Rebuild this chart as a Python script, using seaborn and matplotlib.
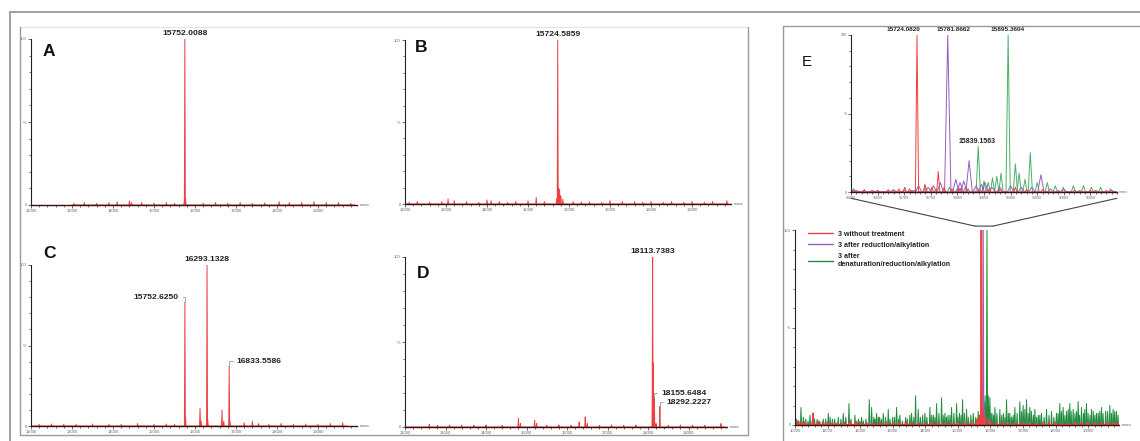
import numpy as np
import pandas as pd
import seaborn as sns
import matplotlib
matplotlib.use("Agg")
import matplotlib.pyplot as plt
from matplotlib.lines import Line2D
from matplotlib.patches import ConnectionPatch
from matplotlib.ticker import MultipleLocator

# ---------------- data (mass, relative intensity %) ----------------
A_mass = [13050, 13300, 13600, 13900, 14100, 14400, 14450, 14700, 15000, 15300, 15500,
          15740, 15752.0088, 15770, 16200, 16500, 16800, 17100, 17400, 17700, 18050,
          18300, 18600, 18900, 19200, 19500, 19800]
A_int = [1, 1.5, 1, 1.5, 2, 2.5, 1.5, 1.5, 1.2, 1.5, 1,
         2, 100, 4, 1.2, 1.5, 1, 1.5, 1, 1.2, 2,
         1.5, 1.5, 2, 1.5, 1.5, 1]

B_mass = [12100, 12300, 12600, 12900, 13050, 13200, 13500, 13800, 14000, 14100, 14300,
          14500, 14700, 15000, 15200, 15400, 15700, 15724.5859, 15740, 15755, 15770,
          15800, 15850, 16100, 16300, 16500, 16800, 17000, 17300, 17600, 17800, 18000,
          18300, 18500, 18800, 19000, 19300, 19500, 19850]
B_int = [1, 1.5, 1, 1.5, 3, 2, 1.5, 1, 2.5, 2, 1.5,
         1, 1.5, 2, 4, 1.5, 3, 100, 10, 7, 9,
         5, 3, 1.5, 1.2, 1.2, 1, 2, 1.5, 1.5, 1, 1.5,
         1, 1.5, 1, 1.5, 1, 1.5, 2]

C_mass = [12200, 12500, 12800, 13100, 13500, 13900, 14200, 14600, 15000, 15300, 15500,
          15752.6250, 15770, 16122, 16150, 16293.1328, 16310, 16658, 16700,
          16833.5586, 16850, 17200, 17400, 17550, 17800, 18100, 18400, 18700,
          19000, 19300, 19600]
C_int = [1, 1.2, 1, 1, 1.2, 1, 1, 1.5, 1, 1.2, 1,
         77, 5, 11, 3, 100, 4, 10, 3,
         37, 3, 2, 3, 1.5, 1, 1.5, 1, 1.2,
         1, 1.5, 2]

D_mass = [12600, 12800, 13100, 13400, 13700, 14000, 14400, 14800, 14850, 15200, 15250,
          15500, 15800, 16100, 16300, 16450, 16500, 16800, 17100, 17400, 17700,
          18113.7383, 18118, 18155.6484, 18200, 18292.2227, 18500, 18800, 19100,
          19400, 19800]
D_int = [1.5, 1, 1.2, 1, 1, 1.2, 1, 5, 2, 4, 2,
         1, 1.2, 1, 3, 6, 2, 1, 1.2, 1, 1.2,
         100, 38, 17, 2, 12, 1, 1.2, 1,
         1, 2]

# Panel E, main spectrum (10000-20000)
E_red_mass = [10100, 10200, 10300, 10553, 10700, 10850, 11000, 11150, 11300, 11500, 11700,
              11850, 12000, 12200, 12400, 12600, 12800, 13000, 13200, 13400, 13600, 13800,
              14000, 14200, 14400, 14600, 14800, 15000, 15200, 15400, 15600, 15680,
              15724.0820, 15764, 15850, 16000, 16200, 16400, 16600, 16800, 17000, 17200,
              17400, 17600, 17800, 18000, 18200, 18400, 18600, 18800, 19000, 19200, 19400,
              19600, 19800, 19900]
E_red_int = [2, 1.5, 1.5, 6, 2, 1.5, 1.5, 1, 1, 1.5, 2,
             1.5, 1.5, 1, 1, 1.5, 1.5, 1, 1, 2, 1.5, 1,
             1, 1.5, 1.5, 1, 1, 1.5, 1.5, 2, 3, 5,
             100, 8, 4, 2, 1.5, 1.5, 1, 1, 1.5, 1.5,
             1, 1, 1.5, 1.5, 1, 1, 1.5, 1.5, 1, 1, 1.5,
             1.5, 1, 1]
E_pur_mass = [12000, 14000, 15700, 15781.8662, 15822, 15957, 16500, 18000]
E_pur_int = [1, 1, 2, 100, 8, 4, 1, 1]
E_grn_mass = [10184, 10256, 10460, 10600, 10870, 11023, 11150, 11330, 11483, 11657, 11841,
              11950, 12046, 12281, 12353, 12506, 12600, 12711, 12864, 13000, 13120, 13222,
              13400, 13529, 13703, 13785, 13990, 14143, 14250, 14348, 14501, 14604, 14700,
              14808, 14962, 15050, 15146, 15268, 15473, 15627, 15839.1563, 15895.3604,
              15937, 15985, 16050, 16138, 16291, 16400, 16496, 16598, 16752, 16905, 17007,
              17110, 17212, 17366, 17470, 17570, 17724, 17877, 18030, 18133, 18235, 18340,
              18440, 18542, 18696, 18798, 18951, 19105, 19258, 19412, 19540, 19668, 19770,
              19870]
E_grn_int = [9, 4, 5, 3, 3, 6, 3, 4, 6, 11, 5,
             3, 4, 13, 9, 6, 4, 6, 8, 4, 9, 5,
             4, 5, 15, 8, 6, 9, 5, 11, 14, 6, 5,
             9, 11, 6, 13, 8, 6, 7, 15, 100,
             15, 14, 6, 9, 8, 6, 13, 6, 9, 12, 10,
             13, 9, 8, 5, 6, 8, 7, 6, 11, 9, 7,
             11, 8, 12, 9, 11, 8, 6, 9, 7, 10, 8,
             7]
E_grn_low_mass = [10050, 10120, 10330, 10400, 10530, 10680, 10760, 10940, 11080, 11220,
                  11410, 11560, 11720, 11900, 12100, 12180, 12420, 12460, 12560, 12650,
                  12780, 12920, 13060, 13180, 13300, 13450, 13580, 13650, 13850, 13920,
                  14050, 14200, 14300, 14420, 14550, 14650, 14760, 14880, 15000, 15100,
                  15200, 15320, 15400, 15550, 15700, 15760, 15810, 15870, 15960, 16020,
                  16100, 16200, 16350, 16450, 16550, 16650, 16700, 16820, 16960, 17060,
                  17160, 17260, 17320, 17420, 17520, 17650, 17800, 17950, 18080, 18180,
                  18290, 18390, 18480, 18600, 18650, 18740, 18860, 18900, 19000, 19060,
                  19160, 19210, 19310, 19360, 19460, 19600, 19720, 19820, 19920]
E_grn_low_int = [3, 2, 3, 2, 2, 3, 2, 3, 4, 3,
                 3, 4, 3, 2, 2, 3, 4, 3, 4, 3,
                 4, 3, 4, 3, 2, 3, 6, 4, 4, 5,
                 4, 5, 4, 6, 5, 4, 5, 6, 4, 5,
                 6, 4, 5, 4, 6, 8, 12, 10, 9, 6,
                 5, 6, 5, 4, 6, 4, 5, 6, 7, 8,
                 6, 7, 5, 4, 5, 4, 5, 4, 6, 7,
                 5, 8, 7, 6, 7, 5, 6, 8, 6, 5,
                 7, 5, 6, 7, 6, 7, 6, 7, 5]

# Panel E, inset (15600-16100)
I_red_mass = [15605, 15625, 15650, 15670, 15690, 15701, 15710, 15724.0820, 15739, 15752,
              15764, 15775, 15790, 15805, 15820, 15840, 15860, 15880, 15909, 15930, 15960,
              15990, 16020, 16050, 16080]
I_red_int = [1, 1.5, 1, 1.5, 2, 3, 2, 100, 5, 3,
             13, 3, 2, 2.5, 2, 1.5, 2, 1.5, 3, 1.5, 1.5,
             1, 1, 1, 1]
I_pur_mass = [15610, 15640, 15680, 15715, 15727, 15745, 15755, 15768, 15781.8662, 15797,
              15805, 15812, 15822, 15835, 15845, 15852, 15865, 15880, 15900, 15920, 15940,
              15957, 15975, 16000, 16030, 16060, 16090]
I_pur_int = [1, 1, 1.5, 1, 4, 3, 4, 6, 100, 8,
             6, 7, 20, 4, 5, 6, 3, 3, 4, 3, 3,
             11, 2, 1.5, 1, 1, 1]
I_grn_mass = [15605, 15625, 15650, 15680, 15700, 15720, 15740, 15760, 15785, 15800, 15815,
              15839.1563, 15850, 15858, 15866, 15874, 15882, 15895.3604, 15909, 15916,
              15927, 15937, 15950, 15969, 15984, 15999, 16018, 16037, 16052, 16069, 16088]
I_grn_int = [2, 1, 1, 1, 1.5, 1, 3, 2, 3, 2, 3,
             29, 7, 6, 9, 10, 12, 100, 18, 12,
             8, 25, 6, 6, 4, 3, 4, 4, 3, 3, 2]

legend_labels = ["3 without treatment", "3 after reduction/alkylation",
                 "3 after\ndenaturation/reduction/alkylation"]

# ---------------- style ----------------
sns.set_theme(style="white")
plt.rcParams['font.family'] = ['Liberation Sans', 'DejaVu Sans']

RED = "#ee4040"
PUR = "#9b5cc0"
GRN = "#1f8c3e"
GRN_LIGHT = "#4caf6a"
W, H = 1140, 441

fig = plt.figure(figsize=(11.4, 4.41), dpi=100)
fig.patch.set_facecolor("white")


def px_axes(left, top, right, bottom):
    return fig.add_axes([left / W, 1 - bottom / H, (right - left) / W, (bottom - top) / H])


def fline(x0, y0, x1, y1, color="#999999", lw=1.2):
    fig.add_artist(Line2D([x0 / W, x1 / W], [1 - y0 / H, 1 - y1 / H],
                          transform=fig.transFigure, color=color, lw=lw))


def draw_spectrum(ax, masses, heights, start, end, color, hw, lw=0.7):
    xs, ys = [start], [0]
    for m, h in sorted(zip(masses, heights)):
        xs += [m - hw, m, m + hw]
        ys += [0, h, 0]
    xs.append(end)
    ys.append(0)
    df = pd.DataFrame({"mass": xs, "int": ys})
    sns.lineplot(data=df, x="mass", y="int", sort=False, estimator=None,
                 color=color, lw=lw, ax=ax, legend=False)


def style_axes(ax, xlim, majors, minor, labelsize=3.0):
    ax.set_xlim(*xlim)
    ax.set_ylim(0, 100)
    ax.patch.set_alpha(0)
    for s in ["top", "right"]:
        ax.spines[s].set_visible(False)
    ax.spines["left"].set_color("#222222")
    ax.spines["left"].set_linewidth(0.8)
    ax.spines["bottom"].set_color("#3a1010")
    ax.spines["bottom"].set_linewidth(1.0)
    ax.set_xticks(majors)
    ax.set_xticklabels([str(t) for t in majors])
    ax.xaxis.set_minor_locator(MultipleLocator(minor))
    ax.set_yticks([0, 50, 100])
    ax.set_yticklabels(["0", "%", "100"])
    ax.yaxis.set_minor_locator(MultipleLocator(10))
    ax.tick_params(which="both", direction="out", bottom=True, left=True,
                   length=2, width=0.5, color="#333333",
                   labelsize=labelsize, labelcolor="#666666", pad=1)
    ax.tick_params(which="minor", length=1.2)
    ax.set_xlabel("")
    ax.set_ylabel("")
    ax.text(1.008, 0, "mass", transform=ax.transAxes, fontsize=labelsize,
            color="#666666", va="center", ha="left")


hook = dict(arrowstyle="-", color="#888888", lw=0.5, shrinkA=0.5, shrinkB=0,
            connectionstyle="angle,angleA=0,angleB=90,rad=0")
lab_kw = dict(fontsize=6.1, fontweight="bold", color="#222222")

# ---------------- frames ----------------
fline(10, 12, 1140, 12, "#9a9a9a", 1.3)
fline(10, 12, 10, 441, "#9a9a9a", 1.3)
fline(20, 27, 748, 27, "#e4e4e4", 0.8)
fline(20, 27, 20, 435, "#9a9a9a", 1.0)
fline(20, 435, 748, 435, "#9a9a9a", 1.0)
fline(748, 27, 748, 435, "#9a9a9a", 1.0)
fline(783, 26, 1140, 26, "#9a9a9a", 1.0)
fline(783, 26, 783, 441, "#9a9a9a", 1.0)

ticks12 = list(range(12000, 20000, 1000))

# ---------------- panel A ----------------
axA = px_axes(31, 39, 357, 205)
draw_spectrum(axA, A_mass, A_int, 13000, 19900, RED, 12)
style_axes(axA, (12000, 19950), ticks12, 200)
axA.annotate(f"{A_mass[12]:.4f}", xy=(A_mass[12], A_int[12]), xytext=(0, 1.5),
             textcoords="offset points", ha="center", va="bottom", **lab_kw)

# ---------------- panel B ----------------
axB = px_axes(405, 40, 731, 204)
draw_spectrum(axB, B_mass, B_int, 12000, 19900, RED, 12)
style_axes(axB, (12000, 19950), ticks12, 200)
axB.annotate(f"{B_mass[17]:.4f}", xy=(B_mass[17], B_int[17]), xytext=(0, 1.5),
             textcoords="offset points", ha="center", va="bottom", **lab_kw)

# ---------------- panel C ----------------
axC = px_axes(31, 265, 357, 426)
draw_spectrum(axC, C_mass, C_int, 12000, 19700, RED, 12)
style_axes(axC, (12000, 19950), ticks12, 200)
axC.annotate(f"{C_mass[15]:.4f}", xy=(C_mass[15], C_int[15]), xytext=(0, 1.5),
             textcoords="offset points", ha="center", va="bottom", **lab_kw)
axC.annotate(f"{C_mass[11]:.4f}", xy=(C_mass[11], C_int[11]), xytext=(-4.5, 3.6),
             textcoords="offset points", ha="right", va="center", arrowprops=hook, **lab_kw)
axC.annotate(f"{C_mass[19]:.4f}", xy=(C_mass[19], C_int[19]), xytext=(5.5, 3.6),
             textcoords="offset points", ha="left", va="center", arrowprops=hook, **lab_kw)

# ---------------- panel D ----------------
axD = px_axes(405, 257, 727, 427)
draw_spectrum(axD, D_mass, D_int, 12000, 19900, RED, 12)
style_axes(axD, (12000, 19950), ticks12, 200)
axD.annotate(f"{D_mass[21]:.4f}", xy=(D_mass[21], D_int[21]), xytext=(0, 1.5),
             textcoords="offset points", ha="center", va="bottom", **lab_kw)
axD.annotate(f"{D_mass[23]:.4f}", xy=(D_mass[23], D_int[23]), xytext=(5, 3.6),
             textcoords="offset points", ha="left", va="center", arrowprops=hook, **lab_kw)
axD.annotate(f"{D_mass[25]:.4f}", xy=(D_mass[25], D_int[25]), xytext=(5, 3.0),
             textcoords="offset points", ha="left", va="center", arrowprops=hook, **lab_kw)

# ---------------- panel E main ----------------
axE = px_axes(795, 230, 1119, 425)
draw_spectrum(axE, E_grn_low_mass, E_grn_low_int, 10000, 19950, GRN, 18, lw=0.7)
draw_spectrum(axE, E_grn_mass, E_grn_int, 10000, 19950, GRN, 18, lw=0.7)
draw_spectrum(axE, E_pur_mass, E_pur_int, 10000, 19950, PUR, 18, lw=0.7)
draw_spectrum(axE, E_red_mass, E_red_int, 10000, 19950, RED, 18, lw=1.2)
style_axes(axE, (10000, 19950), list(range(10000, 20000, 1000)), 200)
handles = [Line2D([], [], color=c, lw=1.0) for c in (RED, PUR, GRN)]
axE.legend(handles, legend_labels, loc="upper left", bbox_to_anchor=(0.02, 1.03),
           frameon=False, handlelength=3.6, handletextpad=0.6, labelspacing=0.6,
           prop=dict(size=5.1, weight="bold"), labelcolor="#222222")

# ---------------- panel E inset ----------------
axI = px_axes(851, 35, 1117, 192)
draw_spectrum(axI, I_grn_mass, I_grn_int, 15600, 16100, GRN_LIGHT, 4, lw=0.7)
draw_spectrum(axI, I_pur_mass, I_pur_int, 15600, 16100, PUR, 6, lw=0.7)
draw_spectrum(axI, I_red_mass, I_red_int, 15600, 16100, RED, 3, lw=0.7)
style_axes(axI, (15600, 16100), list(range(15600, 16100, 50)), 10, labelsize=2.6)
ins_kw = dict(fontsize=4.6, fontweight="bold", color="#222222")
axI.annotate(f"{I_red_mass[7]:.4f}", xy=(I_red_mass[7], 100), xytext=(-10, 4.3),
             textcoords="offset points", ha="center", va="center", **ins_kw)
axI.annotate(f"{I_pur_mass[8]:.4f}", xy=(I_pur_mass[8], 100), xytext=(4, 4.3),
             textcoords="offset points", ha="center", va="center", **ins_kw)
axI.annotate(f"{I_grn_mass[17]:.4f}", xy=(I_grn_mass[17], 100), xytext=(0, 4.3),
             textcoords="offset points", ha="center", va="center", **ins_kw)
axI.annotate(f"{I_grn_mass[11]:.4f}", xy=(I_grn_mass[11], I_grn_int[11]), xytext=(-0.5, 3.5),
             textcoords="offset points", ha="center", va="center",
             fontsize=5.0, fontweight="bold", color="#222222")

# zoom connector
for xa, xb in ((0.0, 15530), (1.0, 16080)):
    cp = ConnectionPatch(xyA=(xa, -0.04), coordsA=axI.transAxes,
                         xyB=(xb, 102), coordsB=axE.transData,
                         color="#444444", lw=0.8)
    fig.add_artist(cp)
cp = ConnectionPatch(xyA=(15530, 102), coordsA=axE.transData,
                     xyB=(16080, 102), coordsB=axE.transData, color="#444444", lw=0.8)
fig.add_artist(cp)

# ---------------- panel letters ----------------
for letter, x, y, wt, fs in (("A", 43, 52, "bold", 12.5), ("B", 415, 47, "bold", 12.5),
                             ("C", 43, 254, "bold", 12.5), ("D", 417, 273, "bold", 12.5),
                             ("E", 802, 62, "normal", 11)):
    fig.text(x / W, 1 - y / H, letter, ha="left", va="center", fontsize=fs,
             fontweight=wt, color="#111111")

fig.savefig("out.png", dpi=100, facecolor="white")
